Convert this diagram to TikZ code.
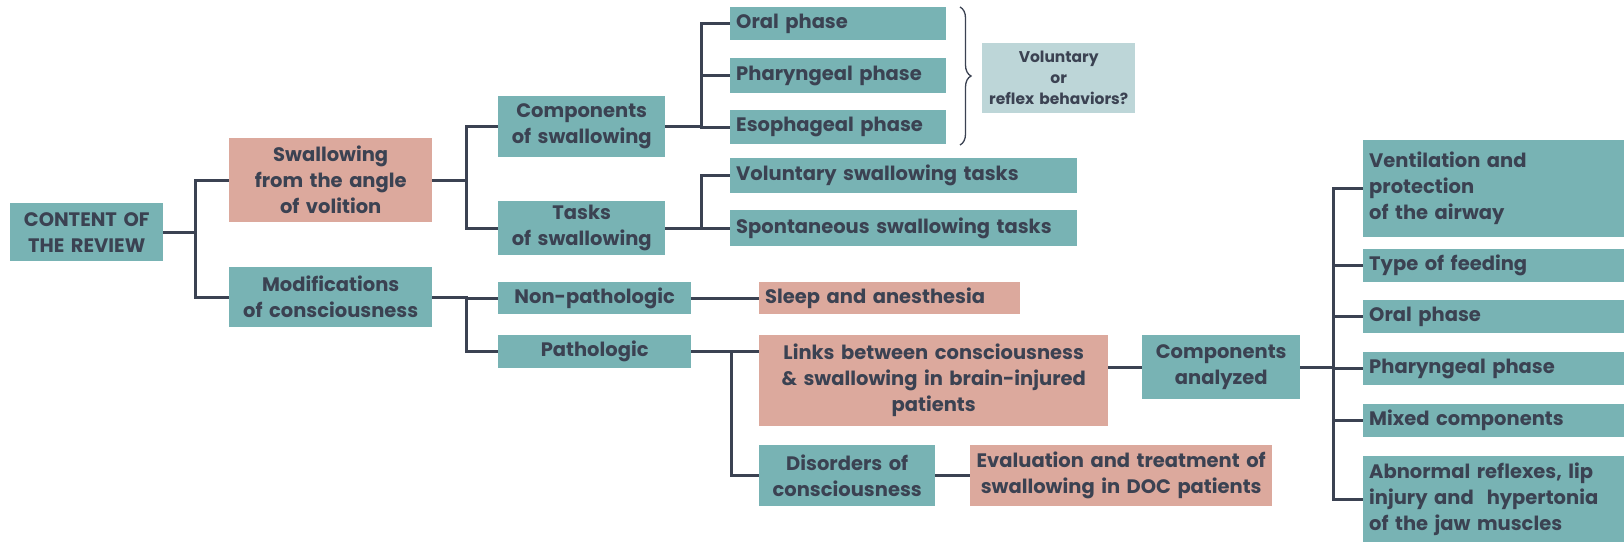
\documentclass[tikz,border=0pt]{standalone}
\usepackage{fontspec}
\setmainfont{Poppins}
\usetikzlibrary{decorations.pathreplacing}
\definecolor{tealfill}{HTML}{78B3B4}
\definecolor{pinkfill}{HTML}{DCA99D}
\definecolor{palefill}{HTML}{BDD6D8}
\definecolor{ink}{HTML}{3B4252}

\tikzset{
  box/.style={anchor=north west, inner xsep=6pt, inner ysep=0pt, text=ink,
    font=\bfseries\fontsize{19.5}{26}\selectfont},
  tealbox/.style={box, fill=tealfill},
  pinkbox/.style={box, fill=pinkfill},
  link/.style={draw=ink, line width=3pt},
}

\begin{document}
\begin{tikzpicture}[x=1pt, y=-1pt]
  \useasboundingbox (0,0) rectangle (1624,542);
  % first level
  \node[tealbox, text width=145pt, minimum height=58pt, align=center, inner xsep=4pt] (root) at (10,203) {CONTENT OF\\THE REVIEW};
  \node[pinkbox, text width=191pt, minimum height=84pt, align=center] (swal) at (229,138) {Swallowing\\from the angle\\of volition};
  \node[tealbox, text width=191pt, minimum height=60pt, align=center] (mods) at (229,267) {Modifications\\of consciousness};
  % swallowing branch
  \node[tealbox, text width=155pt, minimum height=61pt, align=center] (comp) at (498,96) {Components\\of swallowing};
  \node[tealbox, text width=155pt, minimum height=54pt, align=center] (tasks) at (498,201) {Tasks\\of swallowing};
  \node[tealbox, text width=204pt, minimum height=33pt, align=left] (oral) at (730,7) {Oral phase};
  \node[tealbox, text width=204pt, minimum height=35pt, align=left] (phar) at (730,58) {Pharyngeal phase};
  \node[tealbox, text width=204pt, minimum height=34pt, align=left] (esop) at (730,110) {Esophageal phase};
  \node[box, fill=palefill, text width=141pt, minimum height=70pt, align=center,
    font=\bfseries\fontsize{15.5}{21}\selectfont] (volrefl) at (982,43) {Voluntary\\or\\reflex behaviors?};
  \node[tealbox, text width=335pt, minimum height=35pt, align=left] (voltask) at (730,158) {Voluntary swallowing tasks};
  \node[tealbox, text width=335pt, minimum height=36pt, align=left] (spontask) at (730,210) {Spontaneous swallowing tasks};
  % consciousness branch
  \node[tealbox, text width=181pt, minimum height=32pt, align=center] (nonpath) at (498,282) {Non-pathologic};
  \node[tealbox, text width=181pt, minimum height=33pt, align=center] (patho) at (498,335) {Pathologic};
  \node[pinkbox, text width=249pt, minimum height=32pt, align=left] (sleep) at (759,282) {Sleep and anesthesia};
  \node[pinkbox, text width=337pt, minimum height=91pt, align=center] (links) at (759,335) {Links between consciousness\\\& swallowing in brain-injured\\patients};
  \node[tealbox, text width=146pt, minimum height=64pt, align=center] (compan) at (1142,335) {Components\\analyzed};
  \node[tealbox, text width=168pt, minimum height=61pt, align=center, inner xsep=4pt] (doc) at (759,445) {Disorders of\\consciousness};
  \node[pinkbox, text width=296pt, minimum height=61pt, align=center, inner xsep=3pt] (evalt) at (970,445) {Evaluation and treatment of\\swallowing in DOC patients};
  % analysed components
  \node[tealbox, text width=249pt, minimum height=97pt, align=left] (vent) at (1363,140) {Ventilation and\\protection\\of the airway};
  \node[tealbox, text width=249pt, minimum height=33pt, align=left] (feed) at (1363,249) {Type of feeding};
  \node[tealbox, text width=249pt, minimum height=33pt, align=left] (oralb) at (1363,300) {Oral phase};
  \node[tealbox, text width=249pt, minimum height=33pt, align=left] (pharb) at (1363,352) {Pharyngeal phase};
  \node[tealbox, text width=249pt, minimum height=33pt, align=left] (mixed) at (1363,404) {Mixed components};
  \node[tealbox, text width=249pt, minimum height=86pt, align=left] (abn) at (1363,456) {Abnormal reflexes, lip\\injury and \ hypertonia\\of the jaw muscles};
  % junction columns
  \coordinate (j0) at (195,0);
  \coordinate (j1) at (466,0);
  \coordinate (j2) at (701,0);
  \coordinate (j4) at (731,0);
  \coordinate (j5) at (1333,0);
  % connectors
  \draw[link] (root.east) -- (root.east -| j0) |- (swal.west);
  \draw[link] (root.east -| j0) |- (mods.west);
  \draw[link] (swal.east) -- (swal.east -| j1) |- (comp.west);
  \draw[link] (swal.east -| j1) |- (tasks.west);
  \draw[link] (comp.east) -- (comp.east -| j2) |- (oral.west);
  \draw[link] (comp.east -| j2) |- (phar.west);
  \draw[link] (comp.east -| j2) |- (esop.west);
  \draw[link] (tasks.east) -- (tasks.east -| j2) |- (voltask.west);
  \draw[link] (tasks.east -| j2) |- (spontask.west);
  \draw[link] (mods.east) -- (mods.east -| j1) |- (nonpath.west);
  \draw[link] (mods.east -| j1) |- (patho.west);
  \draw[link] (nonpath.east) -- (sleep.west);
  \draw[link] (patho.east) -- (patho.east -| links.west);
  \draw[link] (patho.east -| j4) |- (doc.west);
  \draw[link] (compan.west -| links.east) -- (compan.west);
  \draw[link] (doc.east) -- (evalt.west);
  \draw[link] (compan.east) -- (compan.east -| j5) |- (vent.west);
  \foreach \n in {feed,oralb,pharb,mixed,abn}
    \draw[link] (compan.east -| j5) |- (\n.west);
  % brace round the three phases
  \coordinate (bt) at (960,7);
  \coordinate (bb) at (960,145);
  \draw[ink, line width=1.3pt, decoration={brace, amplitude=11pt}, decorate] (bt) -- (bb);
\end{tikzpicture}
\end{document}
